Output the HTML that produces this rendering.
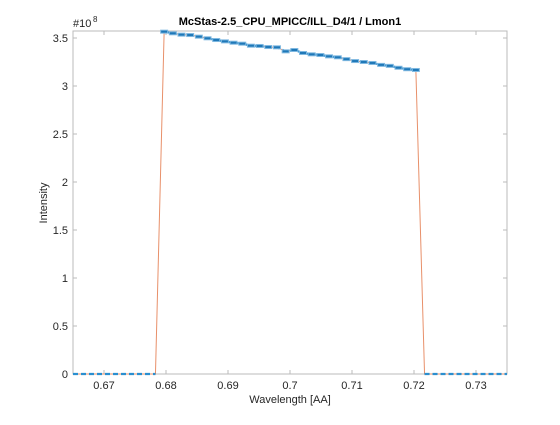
<!DOCTYPE html>
<html><head><meta charset="utf-8"><style>
body{margin:0;background:#fff;width:560px;height:420px;overflow:hidden;font-family:"Liberation Sans",sans-serif}
</style></head><body>
<svg id="chart" width="560" height="420" xmlns="http://www.w3.org/2000/svg"></svg>
<script>
const yValues=[0,0,0,0,0,0,0,0,0,0,
3.566,3.549,3.535,3.531,3.514,3.497,3.479,3.465,3.451,3.441,
3.42,3.417,3.406,3.403,3.361,3.375,3.344,3.330,3.323,3.309,
3.299,3.28,3.26,3.25,3.24,3.22,3.21,3.19,3.175,3.167,
0,0,0,0,0,0,0,0,0,0];
const xTicks=[0.67,0.68,0.69,0.7,0.71,0.72,0.73];
const xTickLabels=["0.67","0.68","0.69","0.7","0.71","0.72","0.73"];
const yTicks=[0,0.5,1,1.5,2,2.5,3,3.5];
const yTickLabels=["0","0.5","1","1.5","2","2.5","3","3.5"];
const xMin=0.665,xMax=0.735,binW=0.0014;
const L=73,R=507,T=31,B=374;
const sx=v=>L+(v-xMin)/(xMax-xMin)*(R-L);
const sy=v=>B-v/3.573*(B-T);
const svg=document.getElementById('chart');
const NS="http://www.w3.org/2000/svg";
function mk(t,a,txt){const e=document.createElementNS(NS,t);for(const k in a)e.setAttribute(k,a[k]);if(txt!=null)e.textContent=txt;svg.appendChild(e);return e;}
const bg=mk('rect',{x:L,y:T,width:R-L,height:B-T,fill:'#fff'});


xTicks.forEach((t,i)=>{const x=sx(t);
 mk('line',{x1:x,y1:B,x2:x,y2:B-4,stroke:'#bbb'});
 mk('line',{x1:x,y1:T,x2:x,y2:T+4,stroke:'#bbb'});
 const tx=mk('text',{x:x,y:B+15,'font-size':11,'text-anchor':'middle',fill:'#262626'},xTickLabels[i]);
 
 
});
yTicks.forEach((t,i)=>{const y=sy(t);
 mk('line',{x1:L,y1:y,x2:L+4,y2:y,stroke:'#bbb'});
 mk('line',{x1:R,y1:y,x2:R-4,y2:y,stroke:'#bbb'});
 const tx=mk('text',{x:L-5,y:y+4,'font-size':11,'text-anchor':'end',fill:'#262626'},yTickLabels[i]);
 
 
});
const frame=mk('rect',{x:L,y:T,width:R-L,height:B-T,fill:'none',stroke:'#bbb'});


const pts=yValues.map((v,i)=>[sx(xMin+(i+0.5)*binW),sy(v)]);
const n=pts.length;
const full=[[L,pts[0][1]]].concat(pts,[[R,pts[n-1][1]]]);
const ol=mk('polyline',{points:full.map(p=>p.join(',')).join(' '),fill:'none',stroke:'#e8906a','stroke-width':1});


// blue dashed segments only within same region (zero or nonzero)
let segs=[],cur=[];
const vals=[yValues[0]].concat(yValues,[yValues[n-1]]);
full.forEach((p,i)=>{
 if(i>0 && (vals[i]>0)!==(vals[i-1]>0)){segs.push(cur);cur=[];}
 cur.push(p);
});
segs.push(cur);
segs.forEach(s=>{
 const bl=mk('polyline',{points:s.map(p=>p.join(',')).join(' '),fill:'none',stroke:'#2a8fd0','stroke-width':2.2,'stroke-dasharray':'5,3'});
 
 
});
pts.forEach((p,i)=>{if(yValues[i]>0){
 const m=mk('line',{x1:p[0]-4,y1:p[1],x2:p[0]+4,y2:p[1],stroke:'#7fb8e0','stroke-width':4});
 
 
 mk('line',{x1:p[0]-3,y1:p[1],x2:p[0]+3,y2:p[1],stroke:'#1f78b8','stroke-width':2});
}});
const t=mk('text',{x:290,y:25,'font-size':11,'font-weight':'bold','text-anchor':'middle',fill:'#000'},'McStas-2.5_CPU_MPICC/ILL_D4/1 / Lmon1');


const ex=mk('text',{x:73,y:27,'font-size':11,fill:'#262626'},'#10');


mk('text',{x:93,y:22,'font-size':8,fill:'#262626'},'8');
const xl=mk('text',{x:290,y:403,'font-size':11,'text-anchor':'middle',fill:'#262626'},'Wavelength [AA]');


const yl=mk('text',{x:0,y:0,'font-size':11,'text-anchor':'middle',fill:'#262626',transform:'translate(47,203) rotate(-90)'},'Intensity');


</script>
</body></html>
